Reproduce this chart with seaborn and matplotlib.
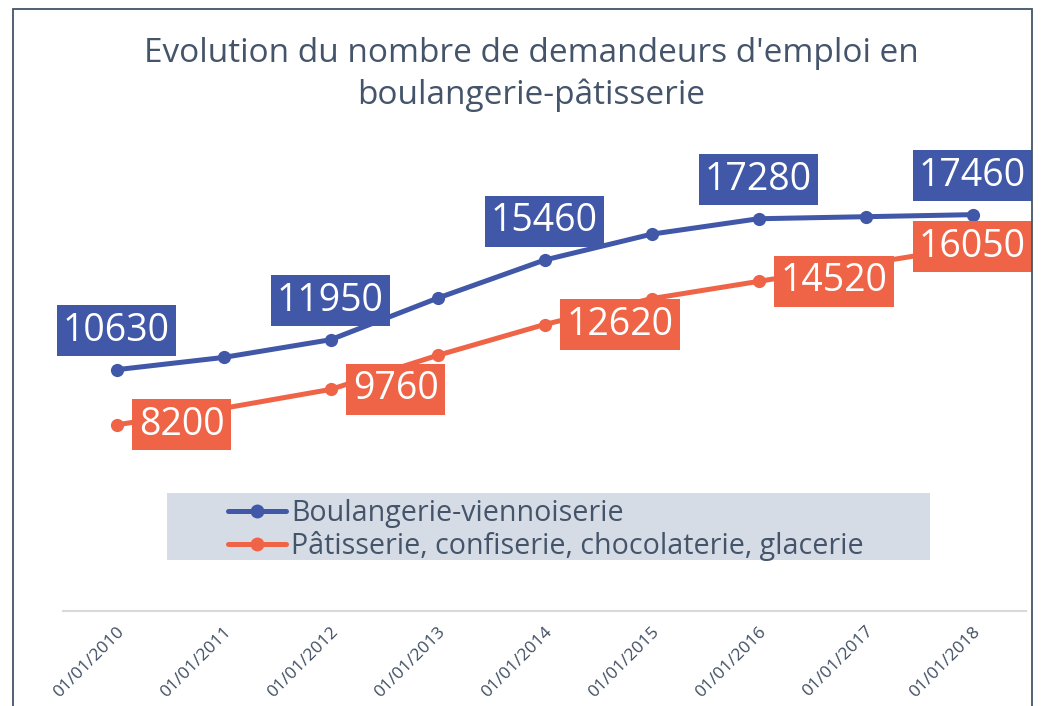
import matplotlib.pyplot as plt
import matplotlib.patches as mpatches
import numpy as np
import pandas as pd
import seaborn as sns

dates = ['01/01/2010', '01/01/2011', '01/01/2012', '01/01/2013', '01/01/2014',
         '01/01/2015', '01/01/2016', '01/01/2017', '01/01/2018']
boulangerie = [10630, 11170, 11950, 13780, 15460, 16600, 17280, 17370, 17460]
patisserie = [8200, 8930, 9760, 11260, 12620, 13760, 14520, 15290, 16050]
series_names = ['Boulangerie-viennoiserie',
                'Pâtisserie, confiserie, chocolaterie, glacerie']
labelled = [0, 2, 4, 6, 8]  # points that carry a value label

blue = '#4157a7'
orange = '#ef6446'
slate = '#44546a'

df = pd.DataFrame({
    'date': dates * 2,
    'x': list(range(len(dates))) * 2,
    'value': boulangerie + patisserie,
    'serie': [series_names[0]] * len(dates) + [series_names[1]] * len(dates),
})

sns.set_style('white')
plt.rcParams['font.family'] = ['Open Sans', 'DejaVu Sans']

fig = plt.figure(figsize=(10.43, 7.06), dpi=100)
ax = fig.add_axes([63 / 1043, 95 / 706, 963 / 1043, 454 / 706])

sns.lineplot(
    data=df, x='x', y='value', hue='serie',
    palette=[blue, orange], marker='o', markersize=9.5,
    markeredgewidth=0, linewidth=3.6, ax=ax, legend=False,
)

# value labels
for i in labelled:
    ax.annotate(str(boulangerie[i]), (i, boulangerie[i]), xytext=(0, 28),
                textcoords='offset points', ha='center', va='center',
                fontsize=27, color='white', zorder=5,
                bbox=dict(boxstyle='square,pad=0.17', fc=blue, ec='none'))
    if i == len(dates) - 1:
        off, ha = (0, 0), 'center'
    else:
        off, ha = (16, 0), 'left'
    ax.annotate(str(patisserie[i]), (i, patisserie[i]), xytext=off,
                textcoords='offset points', ha=ha, va='center',
                fontsize=27, color='white', zorder=5,
                bbox=dict(boxstyle='square,pad=0.17', fc=orange, ec='none'))

ax.set_xlim(-0.5, len(dates) - 0.5)
ax.set_ylim(0, 20000)
ax.set_xticks(range(len(dates)))
ax.set_xticklabels(dates, rotation=45, ha='right', rotation_mode='anchor',
                   fontsize=12.5, color='#3f4d62')
ax.tick_params(axis='x', length=0, pad=9)
ax.set_yticks([])
ax.set_xlabel('')
ax.set_ylabel('')
for s in ['left', 'right', 'top']:
    ax.spines[s].set_visible(False)
ax.spines['bottom'].set_color('#d9d9d9')
ax.spines['bottom'].set_linewidth(1.5)

# legend with its shaded box
fig.patches.append(mpatches.Rectangle(
    (167 / 1043, 146 / 706), 763 / 1043, 67 / 706,
    transform=fig.transFigure, fc='#d6dce5', ec='none', zorder=0))
handles = [plt.Line2D([], [], color=c, lw=3.6, marker='o', markersize=10,
                      markeredgewidth=0) for c in [blue, orange]]
fig.legend(handles, series_names, loc='upper left',
           bbox_to_anchor=(214 / 1043, 1 - 485 / 706), frameon=False,
           fontsize=20.6, labelcolor=slate, borderpad=0, labelspacing=0.1,
           handlelength=2.0, handletextpad=0.2)

fig.text(0.509, 0.947, "Evolution du nombre de demandeurs d'emploi en\nboulangerie-pâtisserie",
         ha='center', va='top', fontsize=24, color=slate, linespacing=1.33)

# outer frame of the chart
fig.patches.append(mpatches.Rectangle(
    (13 / 1043, -0.05), 1019 / 1043, 1.05 - 9 / 706,
    transform=fig.transFigure, fc='none', ec=slate, lw=1.3, zorder=10))

plt.savefig('out.png', dpi=100)
